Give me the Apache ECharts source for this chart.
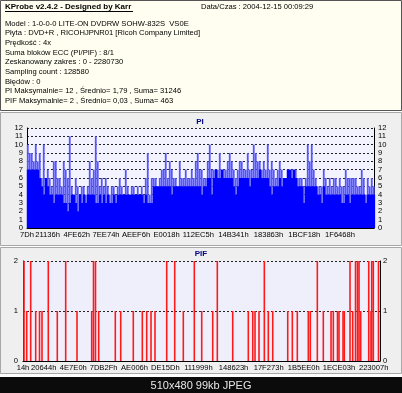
<!DOCTYPE html>
<html><head><meta charset="utf-8">
<script src="https://cdn.jsdelivr.net/npm/echarts@6/dist/echarts.min.js"></script>
<style>html,body{margin:0;padding:0;background:#fff}#c{width:402px;height:393px}</style>
</head><body><div id="c"></div>
<script>
// ---- data ----
const scanEnd = 2280730;          // Zeskanowany zakres : 0 - 2280730
const piBinSize = 13145;          // LBA per PI column
const piXLabels = ['7Dh','21136h','4FE62h','7EE74h','AEEF6h','E0018h','112EC5h','14B341h','183863h','1BCF18h','1F6468h'];
const pifXLabels = ['14h','20644h','4E7E0h','7DB2Fh','AE006h','DE15Dh','111999h','148623h','17F273h','1B5EE0h','1ECE03h','223007h'];
const piYMax = 12;
const pifYMax = 2;
// PI: solid level per column
const piBase = [7,7,7,7,7,7,6,5,4,6,5,4,4,3,4,4,4,4,3,3,2,3,4,4,3,2,4,3,4,3,
4,4,4,4,3,3,4,3,4,3,4,3,3,4,3,4,4,4,4,4,4,4,4,4,4,4,4,4,3,4,
3,3,3,5,5,5,5,5,5,5,5,5,4,5,5,5,5,5,5,5,5,5,5,5,5,5,5,4,5,5,
6,6,4,6,7,6,6,7,6,6,6,6,6,5,4,5,6,6,6,6,6,5,6,6,6,6,7,6,6,6,
6,5,4,5,5,5,6,5,6,6,7,7,6,7,6,5,5,5,3,5,5,5,5,5,5,4,4,3,5,4,
4,4,4,4,4,4,4,3,3,4,4,3,4,4,4,4,4,4,4,3,4,4,4,4];
// PI: peak value per column
const piPeak = [10,9,9,8,10,8,9,6,10,6,7,6,5,8,8,6,6,5,8,7,6,11,5,4,6,5,4,5,5,4,
5,8,6,7,11,8,5,6,5,6,5,4,5,5,4,5,6,5,4,7,5,4,5,5,4,5,4,5,4,6,
9,4,6,6,6,5,6,7,7,9,6,8,7,6,6,5,8,6,6,7,6,6,7,6,8,9,7,7,6,6,
8,10,7,7,7,7,9,7,7,7,8,9,8,7,6,7,8,8,7,7,9,7,7,10,9,8,8,7,8,7,
10,7,8,7,6,7,8,7,6,6,7,7,7,7,7,6,6,6,5,6,10,8,10,7,6,5,5,5,7,6,
5,6,5,6,6,5,6,5,5,7,6,6,6,6,6,5,5,7,6,4,6,5,6,5];
// PIF events
const pifLba = [6400,23640,49200,81100,105400,121400,161600,219100,272800,345000,438900,450400,463200,483600,
589700,624200,704700,762200,790300,817800,843300,918100,969200,1024200,1094400,1141700,1212000,1241400,
1339800,1439400,1467600,1482300,1507800,1541700,1567200,1595400,1691200,1720600,1752500,1822800,1835600,
1880300,1918600,1967800,1982500,2009300,2018900,2044500,2052700,2089200,2106400,2124300,2137100,2146700,
2157500,2208600,2223300,2227800,2238000,2271200];
const pifVal = [2,1,2,1,1,1,2,1,2,1,1,2,2,1,
1,1,1,1,1,1,1,2,2,1,2,1,1,2,
1,1,1,1,1,2,1,1,1,1,1,1,1,
2,1,1,1,1,1,1,1,2,1,2,2,2,
1,2,1,2,2,2];
const headerTitle = 'KProbe v2.4.2 - Designed by Karr';
const headerLines = [
 'Model : 1-0-0-0 LITE-ON DVDRW SOHW-832S  VS0E',
 'Płyta : DVD+R , RICOHJPNR01 [Ricoh Company Limited]',
 'Prędkość : 4x',
 'Suma bloków ECC (PI/PIF) : 8/1',
 'Zeskanowany zakres : 0 - 2280730',
 'Sampling count : 128580',
 'Błędów : 0',
 'PI Maksymalnie= 12 , Średnio= 1,79 , Suma= 31246',
 'PIF Maksymalnie= 2 , Średnio= 0,03 , Suma= 463'
];
const headerDate = 'Data/Czas : 2004-12-15 00:09:29';
const caption = '510x480 99kb JPEG';

// ---- chart ----
const FONT = 'Liberation Sans';
const hexVals = a => a.map(s => parseInt(s, 16));
const hexFmt = v => Math.round(v).toString(16).toUpperCase() + 'h';

function xAxis(grid, labels) {
  return {
    type: 'value', gridIndex: grid, min: 0, max: scanEnd,
    axisLine: {show: true, lineStyle: {color: '#000', width: 1}},
    axisTick: {show: false},
    splitLine: {show: false},
    axisLabel: {customValues: hexVals(labels), formatter: hexFmt, fontFamily: FONT, fontSize: 7.6, color: '#000', margin: 3, hideOverlap: false, showMinLabel: true, showMaxLabel: true}
  };
}
function yAxis(grid, max, pos, split, margin) {
  return {
    type: 'value', gridIndex: grid, min: 0, max: max, interval: 1, position: pos,
    axisLine: {show: true, lineStyle: {color: '#000', width: 1}},
    axisTick: {show: false},
    splitLine: {show: split, lineStyle: {color: '#222', type: [2, 2], width: 1}},
    axisLabel: {fontFamily: FONT, fontSize: 7.6, color: '#000', margin: margin}
  };
}

const txt = (t, x, y, o) => Object.assign({type: 'text', z: 5, style: Object.assign({text: t, x: x, y: y, font: '7.6px ' + FONT, fill: '#000', verticalAlign: 'middle'}, o || {})});

const graphics = [
  {type: 'rect', z: -10, shape: {x: 0.5, y: 0.5, width: 401, height: 110}, style: {fill: '#FFFEF0', stroke: '#555', lineWidth: 1}},
  {type: 'rect', z: -10, shape: {x: 0.5, y: 112.5, width: 401, height: 133}, style: {fill: '#EFEFEF', stroke: '#A8A8A8', lineWidth: 1}},
  {type: 'rect', z: -10, shape: {x: 0.5, y: 247.5, width: 401, height: 126}, style: {fill: '#EFEFEF', stroke: '#A8A8A8', lineWidth: 1}},
  {type: 'rect', z: -10, shape: {x: 0, y: 377, width: 402, height: 16}, style: {fill: '#0B0B0B'}},
  txt(headerTitle, 5, 7, {font: 'bold 8px ' + FONT}),
  {type: 'line', z: 5, shape: {x1: 5, y1: 11.5, x2: 133, y2: 11.5}, style: {stroke: '#000', lineWidth: 1}},
  txt(headerDate, 201, 7),
  txt('PI', 200, 122, {font: 'bold 8px ' + FONT, fill: '#000080', align: 'center'}),
  txt('PIF', 201, 254, {font: 'bold 8px ' + FONT, fill: '#000080', align: 'center'}),
  txt(caption, 201, 385.5, {font: '11px ' + FONT, fill: '#E6E6E6', align: 'center'})
];
headerLines.forEach((l, i) => graphics.push(txt(l, 5, 23.5 + i * 9.7)));

const chart = echarts.init(document.getElementById('c'), null, {renderer: 'canvas'});
chart.setOption({
  animation: false,
  backgroundColor: '#fff',
  grid: [
    {left: 27, top: 128, width: 347, height: 100, show: true, backgroundColor: '#F3F3FF', borderWidth: 0},
    {left: 23, top: 261, width: 357, height: 100, show: true, backgroundColor: '#EFEFFC', borderWidth: 0}
  ],
  xAxis: [xAxis(0, piXLabels), xAxis(1, pifXLabels)],
  yAxis: [yAxis(0, piYMax, 'left', true, 4), yAxis(0, piYMax, 'right', false, 4),
          yAxis(1, pifYMax, 'left', true, 5), yAxis(1, pifYMax, 'right', false, 3)],
  series: [
    {type: 'bar', name: 'PI peak', xAxisIndex: 0, yAxisIndex: 0, barWidth: 1.8, barGap: '-100%', itemStyle: {color: '#5555FF'},
     data: piPeak.map((v, i) => [(i + 0.5) * piBinSize, v])},
    {type: 'bar', name: 'PI', xAxisIndex: 0, yAxisIndex: 0, barWidth: 2.3, barGap: '-100%', itemStyle: {color: '#0000FF'},
     data: piBase.map((v, i) => [(i + 0.5) * piBinSize, v])},
    {type: 'bar', name: 'PIF', xAxisIndex: 1, yAxisIndex: 2, barWidth: 1.6, itemStyle: {color: '#FF1A1A'},
     data: pifLba.map((x, i) => [x, pifVal[i]])}
  ],
  graphic: graphics
});
</script></body></html>
